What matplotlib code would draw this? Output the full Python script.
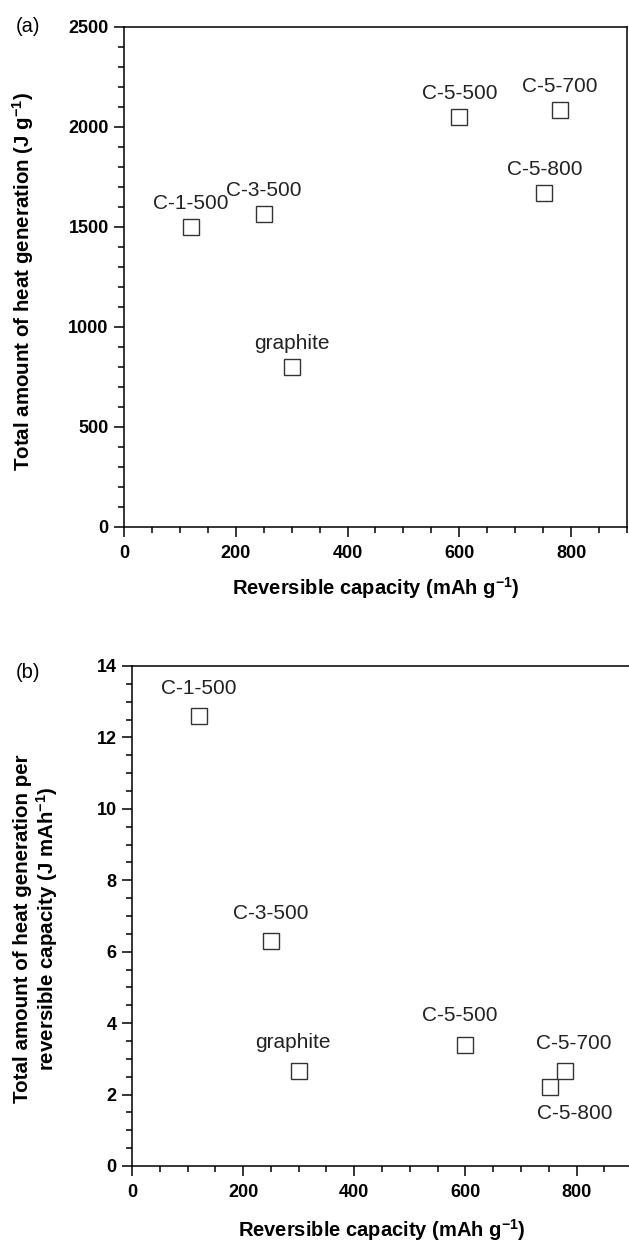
import matplotlib
matplotlib.use("Agg")
import matplotlib.pyplot as plt
from matplotlib.ticker import MultipleLocator

plt.rcParams['font.family'] = ['Liberation Sans', 'DejaVu Sans']
plt.rcParams['mathtext.default'] = 'regular'

samples = ['C-1-500', 'C-3-500', 'graphite', 'C-5-500', 'C-5-700', 'C-5-800']
capacity = [120, 250, 300, 600, 780, 752]          # mAh g-1
heat_total = [1500, 1565, 800, 2050, 2085, 1670]   # J g-1
heat_per_cap = [12.6, 6.3, 2.65, 3.4, 2.65, 2.2]   # J mAh-1

fig = plt.figure(figsize=(6.29, 12.42), dpi=100)
ax_a = fig.add_axes([0.1971, 0.5757, 0.7997, 0.4026])
ax_b = fig.add_axes([0.2099, 0.0612, 0.795, 0.4026])


def style_axes(ax):
    for s in ax.spines.values():
        s.set_linewidth(1.1)
    ax.tick_params(which='both', direction='out', top=False, right=False, width=1.1)
    ax.tick_params(which='major', length=7)
    ax.tick_params(which='minor', length=4.3)
    ax.tick_params(axis='x', which='major', pad=6)
    ax.tick_params(axis='y', which='major', pad=4)
    for lab in ax.get_xticklabels() + ax.get_yticklabels():
        lab.set_fontweight('bold')
        lab.set_fontsize(13)
    ax.set_xlim(0, 900)
    ax.xaxis.set_major_locator(MultipleLocator(200))
    ax.xaxis.set_minor_locator(MultipleLocator(50))
    ax.set_xlabel('Reversible capacity (mAh g$^{-1}$)', fontsize=14.5,
                  fontweight='bold', va='center')


# (a)
ax_a.plot(capacity, heat_total, 's', ms=11, mfc='white', mec='#333333', mew=1.0)
ax_a.set_ylim(0, 2500)
ax_a.yaxis.set_major_locator(MultipleLocator(500))
ax_a.yaxis.set_minor_locator(MultipleLocator(100))
style_axes(ax_a)
ax_a.set_ylabel('Total amount of heat generation (J g$^{-1}$)', fontsize=14.8,
                fontweight='bold', va='center')
ax_a.yaxis.set_label_coords(-0.201, 0.49)
ax_a.xaxis.set_label_coords(0.5, -0.122)
for name, x, y in zip(samples, capacity, heat_total):
    ax_a.annotate(name, (x, y), xytext=(0, 17), textcoords='offset points',
                  ha='center', va='center', fontsize=15, color='#222222')

# (b)
offsets_b = {'C-1-500': (0, 20), 'C-3-500': (0, 20), 'graphite': (-4, 21),
             'C-5-500': (-4, 21), 'C-5-700': (6, 20), 'C-5-800': (18, -19)}
ax_b.plot(capacity, heat_per_cap, 's', ms=11, mfc='white', mec='#333333', mew=1.0)
ax_b.set_ylim(0, 14)
ax_b.yaxis.set_major_locator(MultipleLocator(2))
ax_b.yaxis.set_minor_locator(MultipleLocator(0.5))
style_axes(ax_b)
ax_b.set_ylabel('Total amount of heat generation per\nreversible capacity (J mAh$^{-1}$)',
                fontsize=14.8, fontweight='bold', va='center', linespacing=1.1)
ax_b.yaxis.set_label_coords(-0.191, 0.475)
ax_b.xaxis.set_label_coords(0.5, -0.128)
for name, x, y in zip(samples, capacity, heat_per_cap):
    ax_b.annotate(name, (x, y), xytext=offsets_b[name], textcoords='offset points',
                  ha='center', va='center', fontsize=15, color='#222222')

fig.text(28 / 629, 1 - 27 / 1242, '(a)', ha='center', va='center', fontsize=14.5)
fig.text(28 / 629, 1 - 673 / 1242, '(b)', ha='center', va='center', fontsize=14.5)

fig.savefig('out.png', dpi=100)
